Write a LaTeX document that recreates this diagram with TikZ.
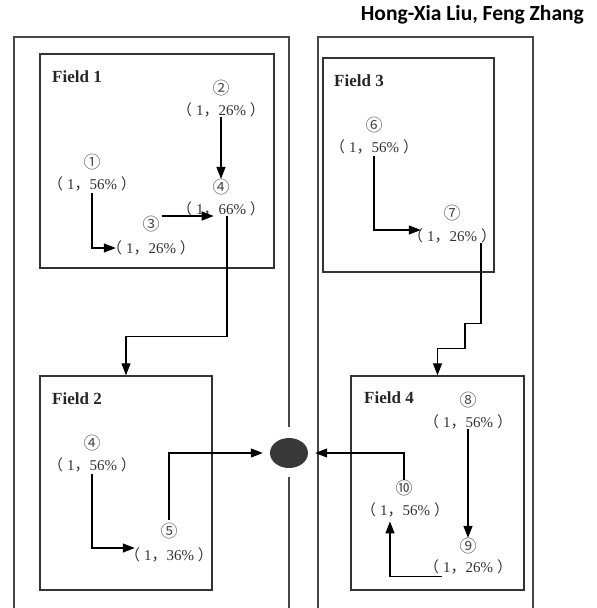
\documentclass[tikz,border=0pt]{standalone}
\usepackage{fontspec}
\setmainfont{Liberation Serif}
\newfontfamily\cjk{Noto Sans CJK SC}
\newfontfamily\titlefont{Carlito}
\usetikzlibrary{arrows.meta,shapes.geometric}
\newcommand\myval[1]{{\cjk （}\hspace{4pt}1{\cjk ，}#1\%\hspace{4pt}{\cjk ）}}
\begin{document}
\begin{tikzpicture}[x=1pt,y=-1pt,
  outer/.style={draw=black!72, line width=1.2pt},
  fieldbox/.style={draw=black!80, line width=1.4pt, inner sep=0pt},
  fieldtitle/.style={anchor=west, font=\fontsize{17}{17}\selectfont\bfseries, text=black!85, inner sep=0pt},
  num/.style={font=\cjk\fontsize{17}{17}\selectfont, text=black!70, inner sep=0pt},
  val/.style={font=\fontsize{15}{15}\selectfont, text=black!80, inner sep=0pt},
  arr/.style={draw=black, line width=1.2pt, -{Triangle[length=12pt,width=9pt]}},
  link/.style={draw=black, line width=1.2pt}]
\useasboundingbox (0,0) rectangle (597,608);

% title
\node[anchor=east, font=\titlefont\bfseries\fontsize{21.5}{21.5}\selectfont, inner sep=0pt] (title) at (584,15) {Hong-Xia Liu, Feng Zhang};

% outer frames
\draw[outer] (14,608) -- (14,37) -- (289,37) -- (289,427);
\draw[outer] (289,477) -- (289,608);
\draw[outer] (318,608) -- (318,37) -- (533,37) -- (533,608);

% hub
\node[ellipse, fill=black!78, minimum width=38pt, minimum height=30pt, inner sep=0pt] (hub) at (289,453) {};

% field boxes
\node[fieldbox, minimum width=234pt, minimum height=214pt] (f1) at (157,161) {};
\node[fieldbox, minimum width=172pt, minimum height=214pt] (f2) at (126,483) {};
\node[fieldbox, minimum width=171pt, minimum height=214pt] (f3) at (408.5,165) {};
\node[fieldbox, minimum width=173pt, minimum height=214pt] (f4) at (437.5,483) {};

% field titles
\node[fieldtitle] (t1) at (52,77) {Field 1};
\node[fieldtitle] (t2) at (52,399) {Field 2};
\node[fieldtitle] (t3) at (334,81) {Field 3};
\node[fieldtitle] (t4) at (364,398) {Field 4};

% Field 1 contents
\node[num] (c2) at (221,88) {②};
\node[val] (v2) at (221,110) {\myval{26}};
\node[num] (c1) at (92,162) {①};
\node[val] (v1) at (92,184) {\myval{56}};
\node[num] (c4) at (221,187) {④};
\node[val] (v4) at (221,209) {\myval{66}};
\node[num] (c3) at (151,224) {③};
\node[val] (v3) at (151,248) {\myval{26}};

% Field 2 contents
\node[num] (c4b) at (92,443) {④};
\node[val] (v4b) at (92,465) {\myval{56}};
\node[num] (c5) at (169,531) {⑤};
\node[val] (v5) at (169,555) {\myval{36}};

% Field 3 contents
\node[num] (c6) at (374,125) {⑥};
\node[val] (v6) at (374,147) {\myval{56}};
\node[num] (c7) at (452,213) {⑦};
\node[val] (v7) at (452,236) {\myval{26}};

% Field 4 contents
\node[num] (c8) at (468,400) {⑧};
\node[val] (v8) at (468,422) {\myval{56}};
\node[num] (c9) at (468,546) {⑨};
\node[val] (v9) at (468,567) {\myval{26}};
\node[num] (c10) at (404,488) {⑩};
\node[val] (v10) at (405,510) {\myval{56}};

% connectors field 1
\draw[arr] ([yshift=-2pt]v1.south) |- ([xshift=9pt]v3.west);
\draw[arr] ([shift={(2,-8)}]c3.east) -- ++(52,0);
\draw[arr] (v2.south) -- (c4.north);
\draw[arr] ([xshift=6pt]v4.south) -- ++(0,120) -| (f2.north);

% connectors field 2
\draw[arr] ([yshift=-2pt]v4b.south) |- ([shift={(10,-7)}]v5.west);
\draw[arr] ([yshift=3pt]c5.north) |- ([xshift=-7pt]hub.west);

% connectors field 3
\draw[arr] ([yshift=-2pt]v6.south) |- ([shift={(13,-6)}]v7.west);
\draw[arr] ([xshift=29pt]v7.south) -- ++(0,80) -- ++(-16,0) -- ++(0,25) -| (f4.north);

% connectors field 4
\draw[arr] (v8.south) -- (c9.north);
\draw[arr] ([shift={(-26,2)}]v9.south) -| ([shift={(-15,4)}]v10.south);
\draw[arr] (c10.north) |- ([xshift=7pt]hub.east);
\end{tikzpicture}
\end{document}
